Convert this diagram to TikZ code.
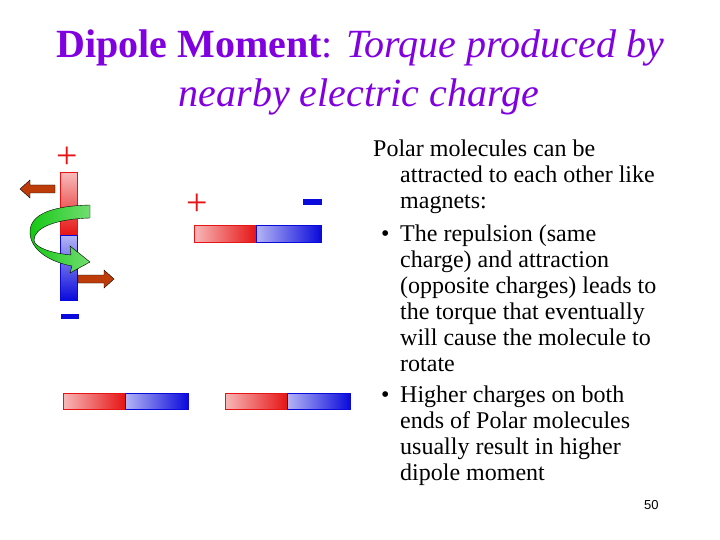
\documentclass[tikz,border=0pt]{standalone}
\usepackage{fontspec}
\setmainfont{Liberation Serif}
\newfontfamily\arialf{Liberation Sans}
\definecolor{ttl}{RGB}{128,0,224}
\definecolor{pr}{RGB}{230,20,20}
\definecolor{pb}{RGB}{10,10,220}
\definecolor{brn}{RGB}{190,60,10}
\definecolor{grn}{RGB}{20,200,20}
\begin{document}
\begin{tikzpicture}[x=1pt,y=-1pt,
  redh/.style={left color=white!70!pr,right color=pr,draw=pr,line width=1pt},
  blueh/.style={left color=white!70!pb,right color=pb,draw=pb,line width=1pt},
  redv/.style={top color=white!70!pr,bottom color=pr,draw=pr,line width=1pt},
  bluev/.style={top color=white!70!pb,bottom color=pb,draw=pb,line width=1pt},
  txt/.style={anchor=base west,inner sep=0pt,font=\fontsize{24}{26}\selectfont},
  plus/.style={text=pr,font=\fontsize{38}{38}\selectfont,inner sep=0pt},
  minus/.style={fill=pb,inner sep=0pt}]
\path[use as bounding box] (0,0) rectangle (720,540);
% title
\node[anchor=base,text=ttl,inner sep=0pt,font=\fontsize{40}{42}\selectfont] (t1) at (360,58) {\textbf{Dipole Moment}: \textit{Torque produced by}};
\node[anchor=base,text=ttl,inner sep=0pt,font=\fontsize{40}{42}\selectfont] (t2) at (359,107) {\textit{nearby electric charge}};
% vertical dipole
\path[redv] (60,173) rectangle (77,235);
\path[bluev] (60,235) rectangle (77,300);
\node[plus] (p1) at (67,158) {+};
\node[minus,minimum width=18pt,minimum height=5pt] (m1) at (70,316) {};
% brown arrows
\fill[brn,draw=black,line width=0.4pt] (55,185) -- (30,185) -- (30,180) -- (20,189) -- (30,198) -- (30,193) -- (55,193) -- cycle;
\fill[brn,draw=black,line width=0.4pt] (78,275) -- (104,275) -- (104,270) -- (114,279) -- (104,288) -- (104,283) -- (78,283) -- cycle;
% green arrow
\path[left color=grn,right color=white!40!grn,draw=black,line width=0.4pt]
 (90,205) .. controls (50,206) and (30,215) .. (30,232) .. controls (30,250) and (50,262) .. (72,266)
 -- (70,273) -- (90,262) -- (70,246) -- (71,255)
 .. controls (50,253) and (34,247) .. (34,240) .. controls (34,228) and (55,219) .. (90,218) -- cycle;
% top horizontal dipole
\path[redh] (194,226) rectangle (256,242);
\path[blueh] (256,226) rectangle (321,242);
\node[plus] (p2) at (197,205) {+};
\node[minus,minimum width=19pt,minimum height=6pt] (m2) at (312,202) {};
% bottom dipoles
\path[redh] (63,393) rectangle (125,409);
\path[blueh] (125,393) rectangle (188,409);
\path[redh] (225,393) rectangle (287,409);
\path[blueh] (287,393) rectangle (350,409);
% text
\node[txt] (l1) at (373,157) {Polar molecules can be};
\node[txt] (l2) at (400,183) {attracted to each other like};
\node[txt] (l3) at (400,209) {magnets:};
\node[txt] (b1) at (381,241) {•};
\node[txt] (l4) at (400,241) {The repulsion (same};
\node[txt] (l5) at (400,267) {charge) and attraction};
\node[txt] (l6) at (400,293) {(opposite charges) leads to};
\node[txt] (l7) at (400,319) {the torque that eventually};
\node[txt] (l8) at (400,345) {will cause the molecule to};
\node[txt] (l9) at (400,371) {rotate};
\node[txt] (b2) at (381,402) {•};
\node[txt] (l10) at (400,402) {Higher charges on both};
\node[txt] (l11) at (400,428) {ends of Polar molecules};
\node[txt] (l12) at (400,454) {usually result in higher};
\node[txt] (l13) at (400,480) {dipole moment};
\node[anchor=base west,inner sep=0pt,font=\arialf\fontsize{13}{13}\selectfont] (pg) at (644,509) {50};
\end{tikzpicture}
\end{document}
